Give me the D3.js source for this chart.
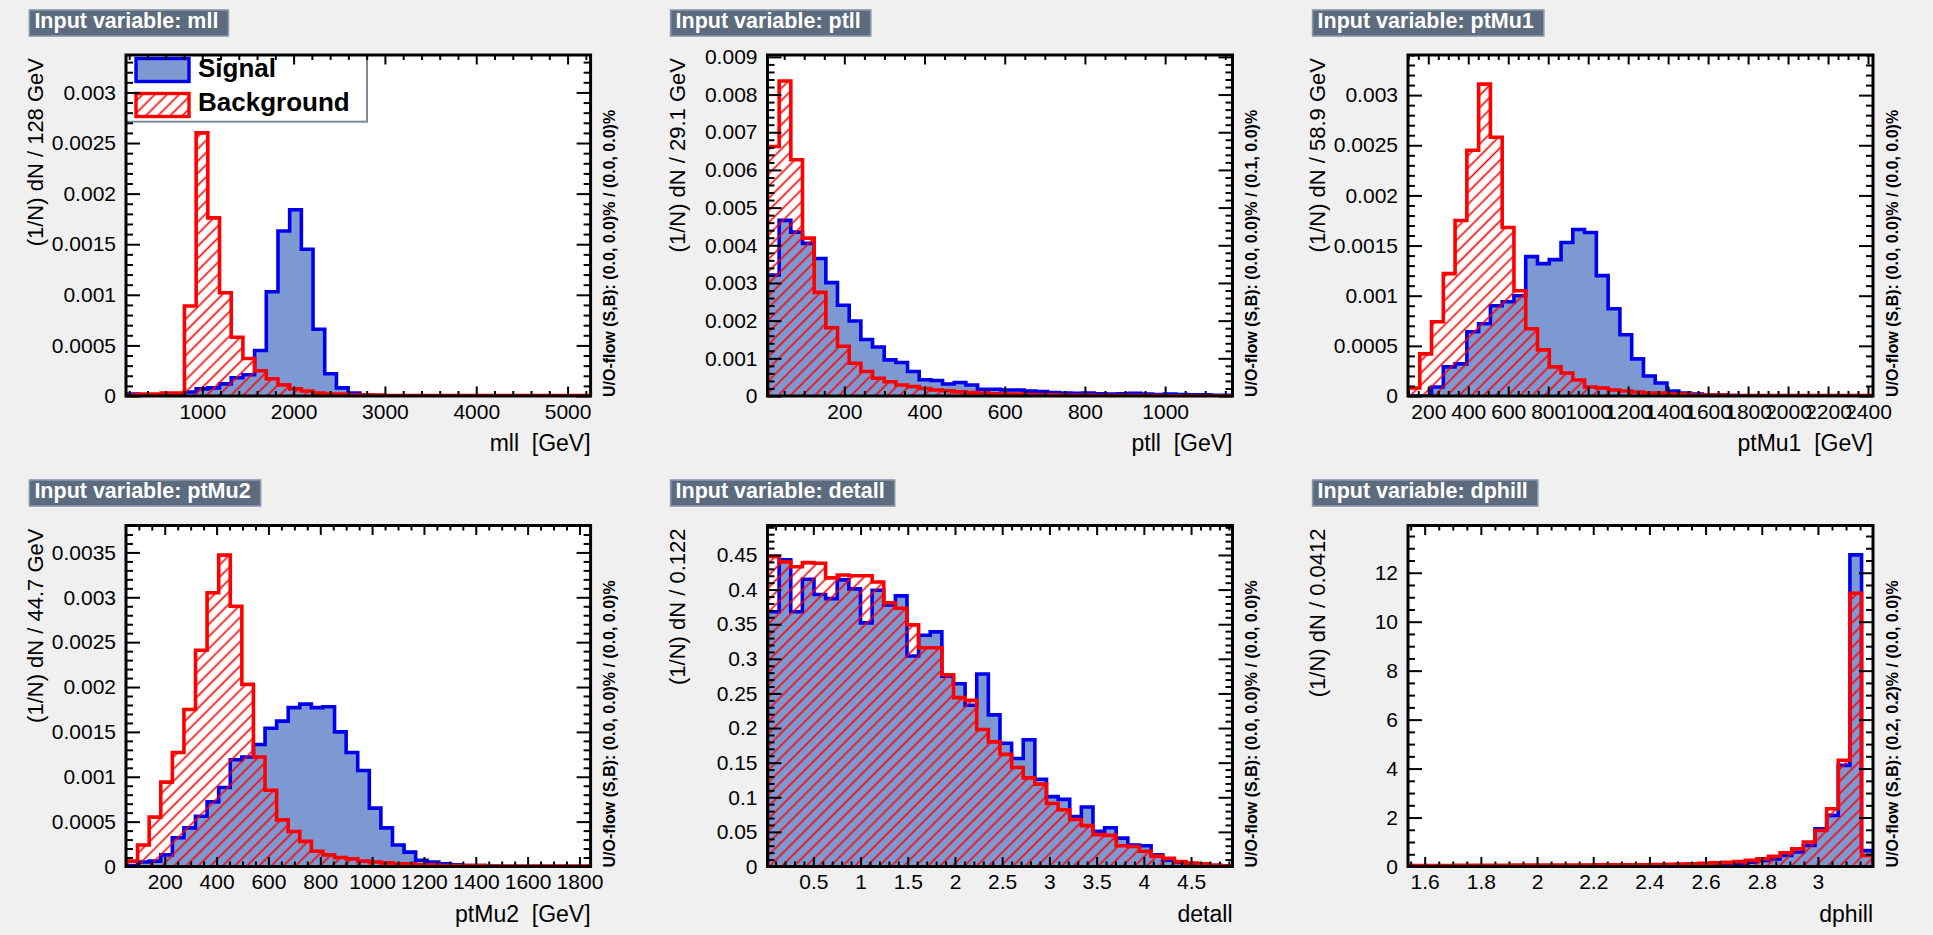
<!DOCTYPE html>
<html><head><meta charset="utf-8">
<script src="https://cdn.jsdelivr.net/npm/d3@7"></script>
<style>
body{margin:0;background:#f0f0f0;}
svg{display:block;}
text{font-family:"Liberation Sans",Arial,Helvetica,sans-serif;}
</style></head><body>
<svg id="c" width="1933" height="935"></svg>
<script>
// ---------------- data ----------------
const legendLabels = ["Signal", "Background"];
const variables = ["mll", "ptll", "ptMu1", "ptMu2", "detall", "dphill"];
const xTitles = ["mll  [GeV]", "ptll  [GeV]", "ptMu1  [GeV]", "ptMu2  [GeV]", "detall", "dphill"];
const yTitles = ["(1/N) dN / 128 GeV", "(1/N) dN / 29.1 GeV", "(1/N) dN / 58.9 GeV", "(1/N) dN / 44.7 GeV", "(1/N) dN / 0.122", "(1/N) dN / 0.0412"];
const overflowTexts = [
  "U/O-flow (S,B): (0.0, 0.0)% / (0.0, 0.0)%",
  "U/O-flow (S,B): (0.0, 0.0)% / (0.1, 0.0)%",
  "U/O-flow (S,B): (0.0, 0.0)% / (0.0, 0.0)%",
  "U/O-flow (S,B): (0.0, 0.0)% / (0.0, 0.0)%",
  "U/O-flow (S,B): (0.0, 0.0)% / (0.0, 0.0)%",
  "U/O-flow (S,B): (0.2, 0.2)% / (0.0, 0.0)%"
];
// axis ranges [min, max] and histogram binning [start, width]
const xRanges = [[165, 5252], [8.4, 1168], [98.5, 2425], [50.5, 1843], [0.0145, 4.939], [1.5406, 3.196]];
const yRanges = [[0, 0.00337], [0, 0.00905], [0, 0.0034], [0, 0.0038], [0, 0.4926], [0, 13.93]];
const binStarts = [165, 8.4, 98.5, 50.5, 0.0145, 1.5406];
const binWidths = [128, 29.1, 58.9, 44.7, 0.1231, 0.0414];

const xTickValues = [
  [1000, 2000, 3000, 4000, 5000],
  [200, 400, 600, 800, 1000],
  [200, 400, 600, 800, 1000, 1200, 1400, 1600, 1800, 2000, 2200, 2400],
  [200, 400, 600, 800, 1000, 1200, 1400, 1600, 1800],
  [0.5, 1, 1.5, 2, 2.5, 3, 3.5, 4, 4.5],
  [1.6, 1.8, 2, 2.2, 2.4, 2.6, 2.8, 3]
];
const xTickLabels = [
  ["1000", "2000", "3000", "4000", "5000"],
  ["200", "400", "600", "800", "1000"],
  ["200", "400", "600", "800", "1000", "1200", "1400", "1600", "1800", "2000", "2200", "2400"],
  ["200", "400", "600", "800", "1000", "1200", "1400", "1600", "1800"],
  ["0.5", "1", "1.5", "2", "2.5", "3", "3.5", "4", "4.5"],
  ["1.6", "1.8", "2", "2.2", "2.4", "2.6", "2.8", "3"]
];
const xMinorSteps = [200, 50, 50, 50, 0.1, 0.05];
const yTickValues = [
  [0, 0.0005, 0.001, 0.0015, 0.002, 0.0025, 0.003],
  [0, 0.001, 0.002, 0.003, 0.004, 0.005, 0.006, 0.007, 0.008, 0.009],
  [0, 0.0005, 0.001, 0.0015, 0.002, 0.0025, 0.003],
  [0, 0.0005, 0.001, 0.0015, 0.002, 0.0025, 0.003, 0.0035],
  [0, 0.05, 0.1, 0.15, 0.2, 0.25, 0.3, 0.35, 0.4, 0.45],
  [0, 2, 4, 6, 8, 10, 12]
];
const yTickLabels = [
  ["0", "0.0005", "0.001", "0.0015", "0.002", "0.0025", "0.003"],
  ["0", "0.001", "0.002", "0.003", "0.004", "0.005", "0.006", "0.007", "0.008", "0.009"],
  ["0", "0.0005", "0.001", "0.0015", "0.002", "0.0025", "0.003"],
  ["0", "0.0005", "0.001", "0.0015", "0.002", "0.0025", "0.003", "0.0035"],
  ["0", "0.05", "0.1", "0.15", "0.2", "0.25", "0.3", "0.35", "0.4", "0.45"],
  ["0", "2", "4", "6", "8", "10", "12"]
];
const yMinorSteps = [0.0001, 0.0002, 0.0001, 0.0001, 0.01, 0.5];

// histogram contents (normalised), 40 bins each
const mllSignal = [0.00002,0.00001,0.00001,0.00001,0.00001,0.00004,0.00007,0.00008,0.00012,0.00018,
  0.00021,0.00045,0.00103,0.00163,0.00184,0.00145,0.00066,0.00022,0.00008,0.00003,
  0.00001,0.000005,0,0,0,0,0,0,0,0, 0,0,0,0,0,0,0,0,0,0];
const mllBackground = [0.00001,0.00002,0.00002,0.00003,0.00003,0.00089,0.0026,0.00176,0.00102,0.00058,
  0.00037,0.00025,0.00017,0.00011,0.00007,0.00005,0.00003,0.00002,0.00002,0.00001,
  0.00001,0.00001,0.000005,0.000005,0.000005,0.000005,0.000005,0.000005,0.000005,0.000005,
  0.000005,0.000005,0.000005,0.000005,0.000005,0.000005,0.000005,0.000005,0.000005,0.000005];
const ptllSignal = [0.00321,0.00466,0.00435,0.00405,0.00365,0.00301,0.00241,0.00199,0.0015,0.0013,
  0.00096,0.00089,0.00065,0.00043,0.00041,0.00032,0.00036,0.00029,0.00018,0.00018,
  0.00016,0.00016,0.00013,0.00012,0.00009,0.00008,0.00007,0.00008,0.00006,0.00005,
  0.00006,0.00007,0.00005,0.00004,0.00005,0.00004,0.00003,0.00003,0.00002,0.00002];
const ptllBackground = [0.00662,0.00836,0.00627,0.00419,0.00275,0.00181,0.00132,0.00087,0.00065,0.00047,
  0.00038,0.00029,0.00025,0.0002,0.00016,0.00014,0.00011,0.00009,0.00008,0.00006,
  0.00005,0.00005,0.00004,0.00003,0.00003,0.00002,0.00002,0.00002,0.00001,0.00001,
  0.00001,0.00001,0.00001,0.00001,0.000005,0.000005,0.000005,0.000005,0.000005,0.000005];
const ptMu1Signal = [0,0,0.00009,0.00029,0.00032,0.00064,0.00072,0.0009,0.00094,0.001,
  0.00139,0.00132,0.00136,0.00153,0.00166,0.00163,0.0012,0.00087,0.00061,0.00037,
  0.0002,0.00013,0.00005,0.00003,0.00002,0.00001,0.00001,0.000005,0,0, 0,0,0,0,0,0,0,0,0,0];
const ptMu1Background = [0.00008,0.00042,0.00074,0.00122,0.00175,0.00245,0.00311,0.00258,0.00168,0.00105,
  0.00067,0.00046,0.00029,0.00023,0.00016,0.00009,0.00008,0.00006,0.00005,0.00004,
  0.00003,0.00003,0.00002,0.00002,0.00001,0.00001,0.00001,0.000005,0.000005,0.000005,
  0.000005,0.000005,0.000005,0.000005,0.000005,0.000005,0.000005,0.000005,0.000005,0.000005];
const ptMu2Signal = [0.00001,0.00005,0.00006,0.00013,0.00032,0.00043,0.00056,0.00072,0.00088,0.00119,
  0.00122,0.00136,0.00154,0.00162,0.00177,0.00181,0.00177,0.00178,0.0015,0.00127,
  0.00107,0.00065,0.00043,0.00024,0.00016,0.00007,0.00005,0.00003,0.00002,0.00001,
  0.00001,0.000005,0,0,0,0,0,0,0,0];
const ptMu2Background = [0.00006,0.00024,0.00055,0.00094,0.00127,0.00175,0.00241,0.00305,0.00347,0.0029,
  0.00203,0.00122,0.00085,0.00052,0.00039,0.00028,0.00017,0.00013,0.0001,0.000085,
  0.00006,0.00005,0.00004,0.00003,0.00003,0.00002,0.00002,0.00001,0.00001,0.00001,
  0.00001,0.000005,0.000005,0.000005,0.000005,0.000005,0.000005,0.000005,0.000005,0.000005];
const detallSignal = [0.368,0.443,0.368,0.415,0.393,0.387,0.414,0.401,0.352,0.399,
  0.378,0.391,0.304,0.334,0.339,0.275,0.264,0.233,0.278,0.219,
  0.178,0.156,0.183,0.126,0.101,0.097,0.072,0.086,0.051,0.056,
  0.041,0.031,0.03,0.017,0.009,0.006,0.001,0.002,0,0.001];
const detallBackground = [0.448,0.44,0.433,0.439,0.438,0.417,0.421,0.42,0.42,0.411,
  0.381,0.373,0.349,0.316,0.316,0.277,0.244,0.24,0.198,0.18,
  0.162,0.143,0.128,0.119,0.091,0.082,0.068,0.059,0.046,0.045,
  0.03,0.029,0.022,0.015,0.012,0.007,0.005,0.004,0.002,0.001];
const dphillSignal = [0.03,0.03,0.03,0.03,0.03,0.03,0.03,0.03,0.03,0.03,
  0.03,0.03,0.03,0.03,0.03,0.04,0.04,0.04,0.04,0.04,
  0.04,0.05,0.05,0.06,0.06,0.07,0.08,0.09,0.11,0.18,
  0.25,0.31,0.45,0.59,0.86,1.54,2.09,4.13,12.73,0.65];
const dphillBackground = [0.04,0.04,0.04,0.04,0.05,0.05,0.05,0.05,0.05,0.06,
  0.06,0.06,0.06,0.06,0.06,0.06,0.07,0.07,0.07,0.07,
  0.07,0.08,0.09,0.1,0.11,0.13,0.15,0.17,0.2,0.25,
  0.31,0.42,0.56,0.72,1.0,1.47,2.36,4.34,11.16,0.45];

const signalSeries = [mllSignal, ptllSignal, ptMu1Signal, ptMu2Signal, detallSignal, dphillSignal];
const backgroundSeries = [mllBackground, ptllBackground, ptMu1Background, ptMu2Background, detallBackground, dphillBackground];

// ---------------- layout / style ----------------
const colFrameL = [126, 767.5, 1408];
const colFrameR = [590.6, 1232.5, 1873];
const rowFrameT = [55, 525.5];
const rowFrameB = [396, 866.5];
const colTitleX = [29.4, 670.6, 1312.6];
const rowTitleY = [10, 480];

const SIG_FILL = "#7d99d1", SIG_LINE = "#0000ee", BKG_LINE = "#ff0000";
const svg = d3.select("#c");
svg.append("rect").attr("width", 1933).attr("height", 935).attr("fill", "#f0f0f0");

const defs = svg.append("defs");
const pat = defs.append("pattern").attr("id", "hatch").attr("patternUnits", "userSpaceOnUse")
  .attr("width", 8.6).attr("height", 8.6).attr("patternTransform", "rotate(45)");
pat.append("line").attr("x1", 4.3).attr("y1", -1).attr("x2", 4.3).attr("y2", 9.6)
  .attr("stroke", BKG_LINE).attr("stroke-width", 1.6);

function stepPoints(vals, x, y, start, width) {
  const pts = [[x(start), y(0)]];
  vals.forEach((v, i) => {
    pts.push([x(start + i * width), y(v)]);
    pts.push([x(start + (i + 1) * width), y(v)]);
  });
  pts.push([x(start + vals.length * width), y(0)]);
  return pts;
}
function minorTicks(domain, step, majors) {
  const out = [];
  const s = Math.ceil(domain[0] / step - 1e-9);
  for (let k = s; k * step <= domain[1] + 1e-12; k++) {
    const v = k * step;
    if (!majors.some(m => Math.abs(m - v) < step * 1e-3)) out.push(v);
  }
  return out;
}

variables.forEach((name, i) => {
  const col = i % 3, row = Math.floor(i / 3);
  const L = colFrameL[col], R = colFrameR[col], T = rowFrameT[row], B = rowFrameB[row];
  const g = svg.append("g");
  const x = d3.scaleLinear().domain(xRanges[i]).range([L, R]);
  const y = d3.scaleLinear().domain(yRanges[i]).range([B, T]);

  // title box
  const tb = g.append("g");
  const tbRect = tb.append("rect").attr("x", colTitleX[col]).attr("y", rowTitleY[row]).attr("height", 26)
    .attr("fill", "#5d6b7e").attr("stroke", "#8a98aa").attr("stroke-width", 1.6);
  const tbText = tb.append("text").attr("x", colTitleX[col] + 5).attr("y", rowTitleY[row] + 18)
    .attr("fill", "#ffffff").attr("font-weight", "bold").attr("font-size", "21.5px")
    .text("Input variable: " + name);
  tbRect.attr("width", tbText.node().getComputedTextLength() + 15);

  // frame background
  g.append("rect").attr("x", L).attr("y", T).attr("width", R - L).attr("height", B - T).attr("fill", "#ffffff");

  const clipId = "clip" + i;
  defs.append("clipPath").attr("id", clipId).append("rect")
    .attr("x", L).attr("y", T).attr("width", R - L).attr("height", B - T);
  const hg = g.append("g").attr("clip-path", `url(#${clipId})`);
  const line = d3.line();
  const sp = stepPoints(signalSeries[i], x, y, binStarts[i], binWidths[i]);
  const bp = stepPoints(backgroundSeries[i], x, y, binStarts[i], binWidths[i]);
  hg.append("path").attr("d", line(sp) + "Z").attr("fill", SIG_FILL).attr("stroke", "none");
  hg.append("path").attr("d", line(sp)).attr("fill", "none").attr("stroke", SIG_LINE).attr("stroke-width", 3.6);
  hg.append("path").attr("d", line(bp) + "Z").attr("fill", "url(#hatch)").attr("stroke", "none");
  hg.append("path").attr("d", line(bp)).attr("fill", "none").attr("stroke", BKG_LINE).attr("stroke-width", 3.6);

  // legend (first pad)
  if (i === 0) {
    const lg = g.append("g");
    lg.append("rect").attr("x", L).attr("y", T).attr("width", 367 - L).attr("height", 121.7 - T)
      .attr("fill", "#ffffff").attr("stroke", "#7f8a99").attr("stroke-width", 2);
    lg.append("rect").attr("x", 136).attr("y", 58.5).attr("width", 53).attr("height", 23)
      .attr("fill", SIG_FILL).attr("stroke", SIG_LINE).attr("stroke-width", 3.4);
    lg.append("rect").attr("x", 136).attr("y", 93.5).attr("width", 53).attr("height", 23)
      .attr("fill", "url(#hatch)").attr("stroke", BKG_LINE).attr("stroke-width", 3.4);
    lg.append("text").attr("x", 198).attr("y", 76.5).attr("font-weight", "bold").attr("font-size", "26px").text(legendLabels[0]);
    lg.append("text").attr("x", 198).attr("y", 110.5).attr("font-weight", "bold").attr("font-size", "26px").text(legendLabels[1]);
  }

  // axes
  const xMaj = xTickValues[i], yMaj = yTickValues[i];
  const xMin = minorTicks(xRanges[i], xMinorSteps[i], xMaj);
  const yMin = minorTicks(yRanges[i], yMinorSteps[i], yMaj);
  const style = sel => {
    sel.select(".domain").remove();
    sel.selectAll(".tick line").attr("stroke", "#000").attr("stroke-width", 2);
    sel.selectAll(".tick text").attr("font-size", "21px").attr("fill", "#000")
      .attr("font-family", "Liberation Sans, Arial, sans-serif");
  };
  g.append("g").attr("transform", `translate(0,${B})`)
    .call(d3.axisBottom(x).tickValues(xMaj).tickFormat((d, k) => xTickLabels[i][k]).tickSizeInner(-9.5).tickSizeOuter(0).tickPadding(8)).call(style);
  g.append("g").attr("transform", `translate(0,${B})`)
    .call(d3.axisBottom(x).tickValues(xMin).tickFormat("").tickSizeInner(-5).tickSizeOuter(0)).call(style);
  g.append("g").attr("transform", `translate(0,${T})`)
    .call(d3.axisTop(x).tickValues(xMaj).tickFormat("").tickSizeInner(-9.5).tickSizeOuter(0)).call(style);
  g.append("g").attr("transform", `translate(0,${T})`)
    .call(d3.axisTop(x).tickValues(xMin).tickFormat("").tickSizeInner(-5).tickSizeOuter(0)).call(style);
  g.append("g").attr("transform", `translate(${L},0)`)
    .call(d3.axisLeft(y).tickValues(yMaj).tickFormat((d, k) => yTickLabels[i][k]).tickSizeInner(-14).tickSizeOuter(0).tickPadding(10)).call(style);
  g.append("g").attr("transform", `translate(${L},0)`)
    .call(d3.axisLeft(y).tickValues(yMin).tickFormat("").tickSizeInner(-7).tickSizeOuter(0)).call(style);
  g.append("g").attr("transform", `translate(${R},0)`)
    .call(d3.axisRight(y).tickValues(yMaj).tickFormat("").tickSizeInner(-14).tickSizeOuter(0)).call(style);
  g.append("g").attr("transform", `translate(${R},0)`)
    .call(d3.axisRight(y).tickValues(yMin).tickFormat("").tickSizeInner(-7).tickSizeOuter(0)).call(style);

  // frame
  g.append("rect").attr("x", L).attr("y", T).attr("width", R - L).attr("height", B - T)
    .attr("fill", "none").attr("stroke", "#000").attr("stroke-width", 3);

  // titles
  g.append("text").attr("x", R).attr("y", B + 55).attr("text-anchor", "end")
    .attr("font-size", "23px").style("white-space", "pre").text(xTitles[i]);
  g.append("text").attr("transform", `translate(${L - 83},${T + 3}) rotate(-90)`).attr("text-anchor", "end")
    .attr("font-size", "22px").text(yTitles[i]);
  g.append("text").attr("transform", `translate(${R + 24.5},${B + 1}) rotate(-90)`).attr("text-anchor", "start")
    .attr("font-size", "16px").attr("font-weight", "bold").text(overflowTexts[i]);
});
</script>
</body></html>
